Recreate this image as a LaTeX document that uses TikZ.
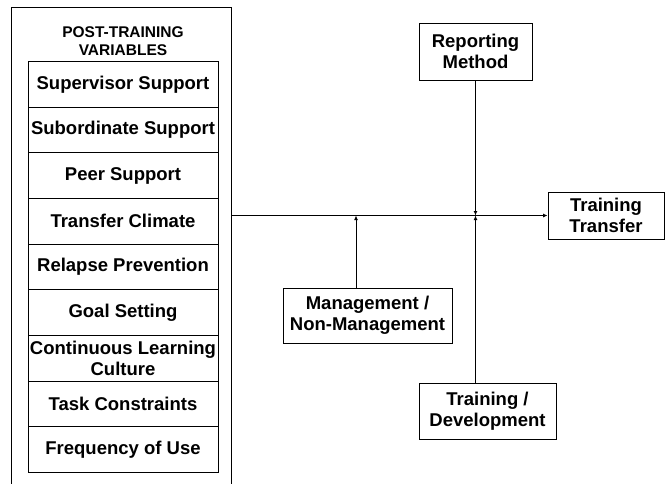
\documentclass[tikz,border=0pt]{standalone}
\usepackage{fontspec}
\setmainfont{Liberation Sans}
\usetikzlibrary{arrows.meta}
\begin{document}
\begin{tikzpicture}[x=1pt,y=-1pt,line width=0.9pt,
	box/.style={draw,align=center,inner sep=0pt,font=\bfseries\fontsize{18.5}{21}\selectfont},
	arr/.style={-{Latex[length=4.5pt,width=4pt]}}]
			\useasboundingbox (0,0) rectangle (665,483);
			\clip (0,0) rectangle (665,483);
			\node [draw,inner sep=0pt,minimum width=220pt,minimum height=520pt,anchor=north west] (panel) at (11,7) {};
			\node [align=center,font=\bfseries\fontsize{15.5}{18.5}\selectfont] (head) at (123,41) {POST-TRAINING\\VARIABLES};
			\foreach \lbl [count=\i from 0] in {Supervisor Support,Subordinate Support,Peer Support,Transfer Climate,Relapse Prevention,Goal Setting,{Continuous Learning\\Culture},Task Constraints,Frequency of Use}
				\node [box,minimum width=190pt,minimum height=45.67pt,anchor=north] (var\i) at (123,61+\i*45.67) {\lbl};
			\node [box,minimum width=113pt,minimum height=57pt] (report) at (475.5,51.5) {Reporting\\Method};
			\node [box,minimum width=116pt,minimum height=47pt] (transfer) at (606,215.5) {Training\\Transfer};
			\node [box,minimum width=169pt,minimum height=55pt] (mgmt) at (367.5,315.5) {Management /\\Non-Management};
			\node [box,minimum width=137pt,minimum height=56pt] (dev) at (487.5,411) {Training /\\Development};
			\coordinate (jm) at (356,215.5);
			\coordinate (jr) at (475.5,215.5);
			\draw [arr] (panel.east |- transfer.west) -- (transfer.west);
			\draw [arr] (mgmt.north -| jm) -- (jm);
			\draw [arr] (report) -- (jr);
			\draw [arr] (dev.north -| jr) -- (jr);
			\end{tikzpicture}
\end{document}
